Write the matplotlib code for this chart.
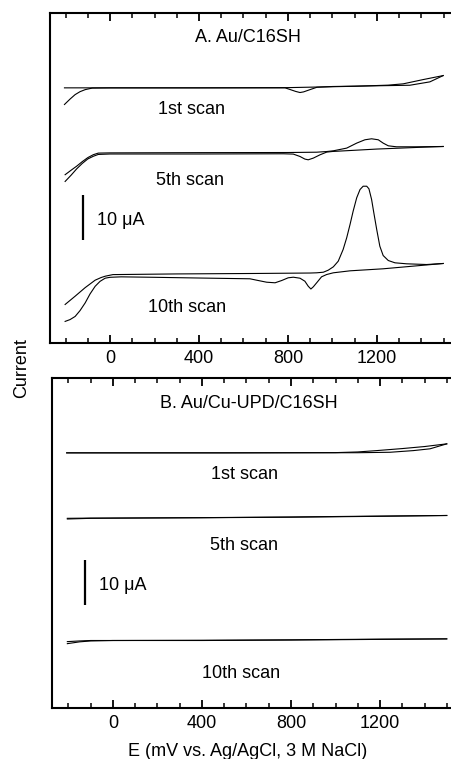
import matplotlib.pyplot as plt
from matplotlib.ticker import MultipleLocator

plt.rcParams["font.family"] = ["Liberation Sans", "DejaVu Sans"]

# --- Panel A: Au/C16SH, current relative to each trace's baseline (uA) ---
a1_fwd_E = [-205, 0, 400, 800, 950, 1100, 1250, 1318, 1408, 1498]
a1_fwd_I = [0.0, 0.0, 0.0, 0.05, 0.2, 0.35, 0.6, 0.89, 1.84, 2.73]
a1_rev_E = [1498, 1438, 1348, 1250, 1000, 930, 900, 870, 854, 835, 810, 787,
            400, 0, -80, -112, -135, -157, -180, -205]
a1_rev_I = [2.73, 1.33, 0.58, 0.5, 0.3, 0.13, -0.38, -0.9, -1.04, -0.8, -0.38, 0.0,
            0.0, 0.0, -0.05, -0.4, -0.85, -1.5, -2.5, -3.7]

a5_fwd_E = [-202, -175, -150, -125, -100, -75, -53, 0, 400, 800, 929, 974, 1004,
            1064, 1109, 1146, 1176, 1206, 1228, 1251, 1288, 1378, 1498]
a5_fwd_I = [-4.8, -3.8, -2.9, -1.9, -1.0, -0.35, 0.0, 0.05, 0.1, 0.13, 0.2, 0.35, 0.51,
            1.11, 2.22, 2.96, 3.18, 2.96, 2.22, 1.62, 1.4, 1.4, 1.47]
a5_rev_E = [1498, 1400, 1200, 1000, 974, 944, 914, 891, 876, 854, 824, 780, 400, 0,
            -53, -75, -100, -125, -150, -175, -202]
a5_rev_I = [1.47, 1.3, 0.9, 0.36, 0.22, -0.38, -1.11, -1.49, -1.33, -0.75, -0.22, -0.15,
            -0.2, -0.2, -0.3, -0.7, -1.3, -2.3, -3.5, -4.9, -6.3]

a10_fwd_E = [-202, -157, -112, -67, -40, -22, 13, 300, 650, 900, 929, 959, 981, 1004,
             1026, 1048, 1064, 1079, 1093, 1109, 1124, 1138, 1154, 1164, 1176, 1186,
             1199, 1213, 1228, 1251, 1281, 1333, 1423, 1498]
a10_fwd_I = [-6.44, -4.6, -2.7, -1.04, -0.45, -0.16, 0.2, 0.35, 0.45, 0.55, 0.6, 0.73,
             1.18, 1.93, 3.18, 5.78, 8.38, 11.33, 14.29, 17.27, 19.11, 19.84, 19.84,
             19.27, 16.89, 13.93, 10.22, 6.51, 4.44, 3.33, 2.82, 2.6, 2.44, 2.67]
a10_rev_E = [1498, 1228, 1079, 1004, 974, 951, 929, 914, 903, 891, 876, 854, 824, 801,
             772, 742, 704, 659, 629, 400, 200, 50, 0, -22, -45, -67, -90, -112, -135,
             -157, -180, -202]
a10_rev_I = [2.67, 1.49, 1.04, 0.6, 0.22, -0.29, -1.62, -2.51, -3.0, -2.38, -1.27, -0.6,
             -0.38, -0.51, -1.11, -1.62, -1.49, -1.04, -0.73, -0.56, -0.4, -0.3, -0.4,
             -0.6, -1.3, -2.4, -4.1, -6.1, -7.8, -9.1, -9.8, -10.2]

# --- Panel B: Au/Cu-UPD/C16SH ---
b1_fwd_E = [-208, 0, 500, 1000, 1100, 1185, 1300, 1400, 1500]
b1_fwd_I = [0.0, 0.0, 0.0, 0.05, 0.2, 0.5, 0.95, 1.4, 2.0]
b1_rev_E = [1500, 1425, 1350, 1245, 1100, 500, 0, -208]
b1_rev_I = [2.0, 0.9, 0.5, 0.13, 0.03, 0.0, 0.0, 0.0]

b5_fwd_E = [-205, -100, 0, 400, 800, 1200, 1500]
b5_fwd_I = [-0.05, 0.0, 0.0, 0.1, 0.25, 0.45, 0.58]
b5_rev_E = [1500, 1200, 800, 400, 0, -100, -205]
b5_rev_I = [0.58, 0.4, 0.2, 0.08, 0.0, -0.05, -0.2]

b10_fwd_E = [-205, -150, -100, 0, 400, 800, 1200, 1500]
b10_fwd_I = [-0.25, -0.1, 0.0, 0.0, 0.05, 0.15, 0.3, 0.36]
b10_rev_E = [1500, 1200, 800, 400, 0, -100, -150, -205]
b10_rev_I = [0.36, 0.25, 0.1, 0.0, 0.0, -0.1, -0.3, -0.7]

scan_labels = ["1st scan", "5th scan", "10th scan"]
scale_bar_uA = 10

# trace offsets on the stacked axis (uA)
offsets = [56.7, 42.2, 15.0]

panels = [
    {
        "title": "A. Au/C16SH",
        "traces": [(a1_fwd_E, a1_fwd_I, a1_rev_E, a1_rev_I),
                   (a5_fwd_E, a5_fwd_I, a5_rev_E, a5_rev_I),
                   (a10_fwd_E, a10_fwd_I, a10_rev_E, a10_rev_I)],
        "rect": [50 / 451, (759 - 343) / 759, 401 / 451, 330 / 759],
        "xlim": (-270, 1533),
        "title_xy": (620, 68.0),
        "label_xy": [(364, 51.8), (360, 36.2), (348, 7.8)],
        "bar_x": -121,
        "bar_text_x": -58,
    },
    {
        "title": "B. Au/Cu-UPD/C16SH",
        "traces": [(b1_fwd_E, b1_fwd_I, b1_rev_E, b1_rev_I),
                   (b5_fwd_E, b5_fwd_I, b5_rev_E, b5_rev_I),
                   (b10_fwd_E, b10_fwd_I, b10_rev_E, b10_rev_I)],
        "rect": [52 / 451, (759 - 708) / 759, 399 / 451, 330 / 759],
        "xlim": (-274, 1519),
        "title_xy": (611, 67.7),
        "label_xy": [(589, 51.8), (589, 36.2), (575, 7.7)],
        "bar_x": -126,
        "bar_text_x": -62,
    },
]

fig = plt.figure(figsize=(4.51, 7.59), dpi=100)

for p in panels:
    ax = fig.add_axes(p["rect"])
    for (fE, fI, rE, rI), off in zip(p["traces"], offsets):
        ax.plot(fE, [v + off for v in fI], color="black", lw=0.8)
        ax.plot(rE, [v + off for v in rI], color="black", lw=0.8)

    ax.set_xlim(*p["xlim"])
    ax.set_ylim(0, 330 / 4.5)

    ax.text(*p["title_xy"], p["title"], ha="center", va="center", fontsize=13)
    for (x, y), lab in zip(p["label_xy"], scan_labels):
        ax.text(x, y, lab, ha="center", va="center", fontsize=13)

    # 10 uA scale bar
    ax.plot([p["bar_x"], p["bar_x"]], [22.9, 22.9 + scale_bar_uA], color="black",
            lw=1.6, solid_capstyle="butt")
    ax.text(p["bar_text_x"], 27.3, "10 \u03bcA", ha="left", va="center", fontsize=13)

    ax.spines["right"].set_visible(False)
    for s in ("left", "top", "bottom"):
        ax.spines[s].set_linewidth(1.5)
    ax.set_yticks([])
    ax.xaxis.set_major_locator(MultipleLocator(400))
    ax.xaxis.set_minor_locator(MultipleLocator(100))
    ax.set_xticks([0, 400, 800, 1200])
    ax.tick_params(axis="x", which="both", direction="in", top=True, bottom=True,
                   labelsize=13, pad=5)
    ax.tick_params(axis="x", which="major", length=6, width=1.3)
    ax.tick_params(axis="x", which="minor", length=3.5, width=1.1)

fig.text(22 / 451, (759 - 368) / 759, "Current", rotation=90, ha="center",
         va="center", fontsize=13)
fig.text(248 / 451, (759 - 756) / 759, "E (mV vs. Ag/AgCl, 3 M NaCl)", ha="center",
         va="baseline", fontsize=13)

fig.savefig("out.png", dpi=100)
